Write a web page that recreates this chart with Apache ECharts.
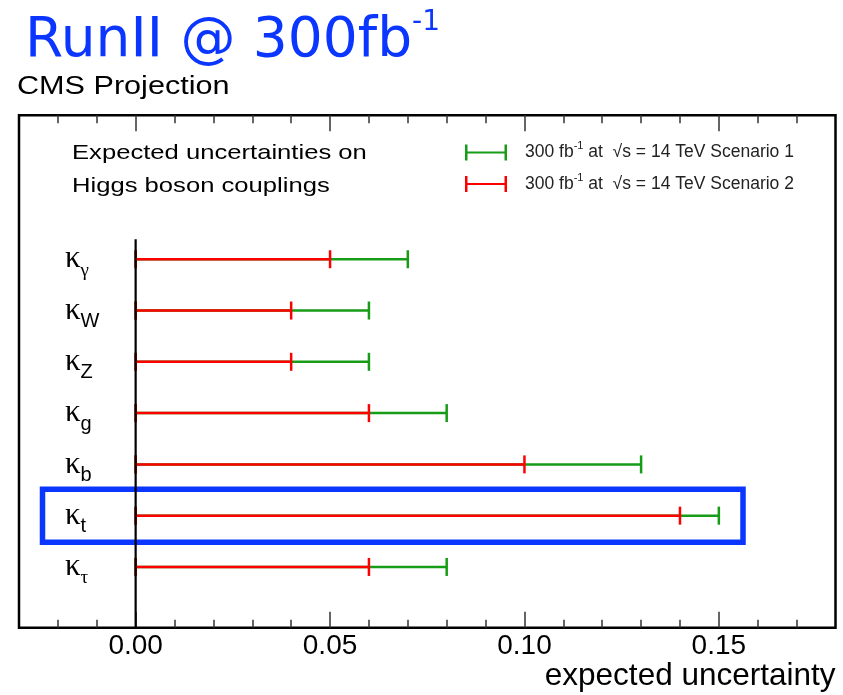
<!DOCTYPE html>
<html>
<head>
<meta charset="utf-8">
<script src="https://cdn.jsdelivr.net/npm/echarts@6/dist/echarts.min.js"></script>
<style>
  html, body { margin: 0; padding: 0; background: #fff; }
  #chart { width: 843px; height: 695px; }
</style>
</head>
<body>
<div id="chart"></div>
<script>
// Coupling modifiers kappa_X, listed top to bottom (the subscript X)
const couplings = ['γ', 'W', 'Z', 'g', 'b', 't', 'τ'];
const greekSubscripts = ['γ', 'τ'];
// Expected uncertainties, 300 fb^-1 at sqrt(s) = 14 TeV
const scenario1 = [0.07, 0.06, 0.06, 0.08, 0.13, 0.15, 0.08];
const scenario2 = [0.05, 0.04, 0.04, 0.06, 0.10, 0.14, 0.06];
// x axis range and ticks
const xRange = [-0.03, 0.18];
const majorTicks = [0, 0.05, 0.10, 0.15];
const minorTicks = [-0.02, -0.01, 0.00, 0.01, 0.02, 0.03, 0.04, 0.05, 0.06, 0.07, 0.08,
                    0.09, 0.10, 0.11, 0.12, 0.13, 0.14, 0.15, 0.16, 0.17];
const highlighted = 't';

const SANS = 'Liberation Sans';
const SERIF = 'Liberation Serif';
const GREEN = '#169c16';
const RED = '#ff0000';
const BLUE = '#0a36ff';

const chart = echarts.init(document.getElementById('chart'), null, { renderer: 'canvas' });

const frame = { left: 19, right: 7.5, top: 115.3, bottom: 67.3 };
const rows = { left: 19, right: 7.5, top: 233.6, height: 359 };

function errorBar(color) {
  return function (params, api) {
    const idx = api.value(1);
    const p0 = api.coord([0, idx]);
    const p1 = api.coord([api.value(0), idx]);
    const h = 9;
    const style = { stroke: color, lineWidth: 2.5 };
    return {
      type: 'group',
      children: [
        { type: 'line', shape: { x1: p0[0], y1: p0[1], x2: p1[0], y2: p1[1] }, style },
        { type: 'line', shape: { x1: p0[0], y1: p0[1] - h, x2: p0[0], y2: p0[1] + h }, style },
        { type: 'line', shape: { x1: p1[0], y1: p1[1] - h, x2: p1[0], y2: p1[1] + h }, style }
      ]
    };
  };
}

const tickAxis = (position, values, length) => ({
  gridIndex: 0, type: 'value', position, min: xRange[0], max: xRange[1],
  axisLine: { show: false },
  axisLabel: { show: false },
  splitLine: { show: false },
  axisTick: { show: true, inside: true, length, customValues: values,
              lineStyle: { color: '#333', width: 1.5 } }
});

const barIcon = 'path://M0,0H2.5V7H39.5V0H42V16H39.5V9H2.5V16H0Z';

chart.setOption({
  animation: false,
  grid: [
    Object.assign({ show: true, borderColor: '#000', borderWidth: 2.5, backgroundColor: 'transparent' }, frame),
    rows
  ],
  xAxis: [
    {
      gridIndex: 0, type: 'value', position: 'bottom', min: xRange[0], max: xRange[1],
      axisLine: { show: false },
      splitLine: { show: false },
      axisTick: { show: true, inside: true, length: 16, customValues: majorTicks,
                  lineStyle: { color: '#333', width: 1.5 } },
      axisLabel: { customValues: majorTicks, formatter: v => v.toFixed(2), margin: 5,
                   fontFamily: SANS, fontSize: 28, color: '#000' },
      name: 'expected uncertainty', nameLocation: 'end', nameGap: 0,
      nameTextStyle: { fontFamily: SANS, fontSize: 31.5, color: '#000', align: 'right',
                       verticalAlign: 'top', padding: [33, 0, 0, 0] }
    },
    tickAxis('bottom', minorTicks, 8),
    tickAxis('top', majorTicks, 16),
    tickAxis('top', minorTicks, 8),
    { gridIndex: 1, type: 'value', min: xRange[0], max: xRange[1], show: false }
  ],
  yAxis: [
    { gridIndex: 0, type: 'value', show: false },
    {
      gridIndex: 1, type: 'category', data: couplings, inverse: true,
      axisLine: { show: false }, axisTick: { show: false }, splitLine: { show: false },
      axisLabel: {
        inside: true, margin: 46,
        formatter: v => '{k|κ}{' + (greekSubscripts.includes(v) ? 'sg' : 'sl') + '|' + v + '}',
        rich: {
          k: { fontFamily: SERIF, fontSize: 31, lineHeight: 42, color: '#000', verticalAlign: 'middle' },
          sl: { fontFamily: SANS, fontSize: 20, lineHeight: 20, color: '#000', verticalAlign: 'bottom' },
          sg: { fontFamily: SERIF, fontSize: 19, lineHeight: 20, color: '#000', verticalAlign: 'bottom' }
        }
      }
    }
  ],
  legend: {
    orient: 'vertical', left: 465, top: 140.5, padding: 0, itemWidth: 42, itemHeight: 16, itemGap: 7.5,
    selectedMode: false,
    data: [{ name: 'Scenario 1', icon: barIcon }, { name: 'Scenario 2', icon: barIcon }],
    formatter: name => '300 fb{sup|-1} at  √s = 14 TeV ' + name,
    textStyle: {
      fontFamily: SANS, fontSize: 17.5, color: '#222', lineHeight: 24, padding: [0, 0, 0, 13],
      rich: { sup: { fontFamily: SANS, fontSize: 11, lineHeight: 11, verticalAlign: 'top', color: '#222' } }
    }
  },
  series: [
    {
      name: 'Scenario 1', type: 'custom', xAxisIndex: 4, yAxisIndex: 1,
      itemStyle: { color: GREEN }, renderItem: errorBar(GREEN), z: 3,
      encode: { x: 0, y: 1 },
      data: scenario1.map((v, i) => [v, i])
    },
    {
      name: 'Scenario 2', type: 'custom', xAxisIndex: 4, yAxisIndex: 1,
      itemStyle: { color: RED }, renderItem: errorBar(RED), z: 4,
      encode: { x: 0, y: 1 },
      data: scenario2.map((v, i) => [v, i])
    }
  ]
});

// Annotations placed from the axes: zero line and the highlight box around kappa_t
const x0 = chart.convertToPixel({ xAxisIndex: 0 }, 0);
const yTop = chart.convertToPixel({ yAxisIndex: 1 }, couplings[0]);
const yHi = chart.convertToPixel({ yAxisIndex: 1 }, highlighted);
const frameBottom = 695 - frame.bottom;

chart.setOption({
  graphic: [
    {
      type: 'text', x: 25, y: 42, z: 10,
      style: {
        text: '{a|RunII @ 300fb}{s|-1}', verticalAlign: 'middle', fill: BLUE,
        rich: {
          a: { fontFamily: 'DejaVu Sans', fontSize: 55, lineHeight: 66, fill: BLUE, verticalAlign: 'middle' },
          s: { fontFamily: 'DejaVu Sans', fontSize: 28, lineHeight: 28, fill: BLUE, verticalAlign: 'top' }
        }
      }
    },
    {
      type: 'text', x: 17, y: 86.5, scaleX: 1.2, z: 10,
      style: { text: 'CMS Projection', fontFamily: SANS, fontSize: 25.5, fill: '#000', verticalAlign: 'middle' }
    },
    {
      type: 'text', x: 72, y: 153, scaleX: 1.22, z: 10,
      style: { text: 'Expected uncertainties on', fontFamily: SANS, fontSize: 21, fill: '#000', verticalAlign: 'middle' }
    },
    {
      type: 'text', x: 72, y: 186, scaleX: 1.22, z: 10,
      style: { text: 'Higgs boson couplings', fontFamily: SANS, fontSize: 21, fill: '#000', verticalAlign: 'middle' }
    },
    {
      type: 'rect', z: 20,
      shape: { x: 42.5, y: yHi - 26.5, width: 700.5, height: 53 },
      style: { fill: 'none', stroke: BLUE, lineWidth: 5.5 }
    },
    {
      type: 'line', z: 30,
      shape: { x1: x0, y1: yTop - 20, x2: x0, y2: frameBottom },
      style: { stroke: '#000', lineWidth: 2.2 }
    }
  ]
});
</script>
</body>
</html>
